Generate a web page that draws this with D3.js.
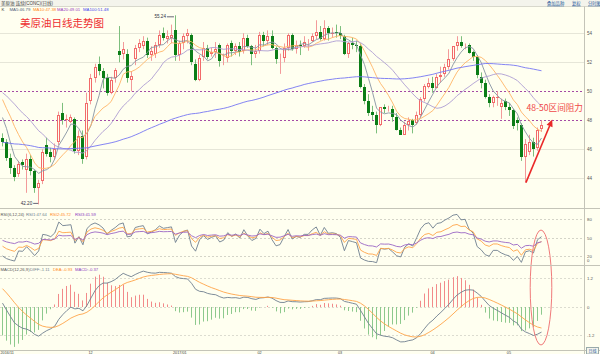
<!DOCTYPE html>
<html>
<head>
<meta charset="utf-8">
<script src="https://cdn.jsdelivr.net/npm/d3@7"></script>
<style>
  html, body { margin: 0; padding: 0; background: #fffff0; }
  svg { display: block; font-family: "Liberation Sans", "Noto Sans CJK SC", sans-serif; }
</style>
</head>
<body>
<svg id="chart" width="600" height="354"></svg>
<script>
/* WTI crude (CONC) daily candles, Nov 2016 - May 2017, with MA / RSI / MACD panels */

// closes before the visible window, only used to warm up MA100 / RSI / MACD
var priorCloses = [
  48.88, 48.49, 48.01, 46.21, 47.98, 48.81, 48.85, 49.13, 50.11, 47.64, 46.33, 47.85, 49.88, 48.33,
  48.99, 46.60, 47.43, 45.14, 45.41, 44.76, 46.80, 44.75, 45.68, 45.95, 45.24, 44.65, 44.94, 44.75,
  44.19, 43.13, 42.92, 41.92, 41.14, 41.60,
  40.06, 39.51, 40.83, 41.93, 41.80, 43.02, 42.77, 41.71, 43.49, 44.49, 45.74, 46.58, 46.79, 48.22,
  48.52, 47.05, 48.10, 46.77, 47.33, 47.64, 46.98, 46.35, 44.70,
  43.16, 44.44, 44.83, 45.50, 47.62, 45.88, 46.29, 44.90, 43.58, 43.91, 43.03, 43.30, 43.44, 45.34,
  46.32, 44.48, 45.93, 44.67, 47.05, 47.83, 48.24,
  48.81, 48.69, 49.83, 50.44, 49.81, 51.35, 50.79, 50.18, 50.44, 50.35, 50.29, 50.29, 51.60, 50.43,
  50.85, 50.52, 49.96, 49.18, 49.72, 48.70, 46.86
];

// [open, high, low, close]
var nov16 = [
  [46.8, 47.1, 46.2, 46.5], [46.5, 46.7, 45.2, 45.4], [45.4, 45.7, 44.3, 44.7], [44.7, 44.9, 43.8, 44.1],
  [44.3, 45.2, 44.1, 45.0], [45.1, 45.3, 44.6, 44.9], [44.6, 45.7, 43.0, 45.3], [45.3, 45.6, 44.2, 44.5],
  [44.5, 44.6, 43.0, 43.3], [43.3, 43.9, 42.2, 43.7], [43.8, 46.0, 43.6, 45.8], [46.3, 46.8, 45.5, 45.7],
  [45.8, 46.1, 45.1, 45.5], [45.5, 46.4, 45.3, 46.0], [46.5, 48.6, 46.3, 48.4], [48.5, 49.2, 47.7, 48.0],
  [48.1, 48.4, 47.5, 48.1], [47.9, 48.4, 47.8, 48.2], [48.1, 48.2, 45.7, 45.9], [45.9, 47.3, 45.6, 46.9],
  [46.9, 47.3, 45.0, 45.3], [45.5, 49.9, 45.3, 49.2]
];
var dec16 = [
  [49.3, 51.2, 49.1, 50.9], [50.9, 51.9, 50.6, 51.7], [51.9, 52.4, 51.1, 51.4], [51.4, 51.6, 50.2, 50.9],
  [50.9, 51.2, 49.7, 49.9], [49.9, 51.0, 49.8, 50.8], [50.9, 51.6, 50.6, 51.5], [52.8, 54.5, 52.0, 52.5],
  [52.6, 53.4, 52.2, 52.9], [52.6, 52.9, 50.6, 50.9], [50.8, 51.4, 50.0, 51.05], [52.2, 53.2, 51.8, 53.0],
  [53.0, 53.6, 52.7, 53.3], [53.1, 53.8, 52.9, 53.5], [53.5, 53.7, 52.3, 52.5], [52.5, 53.1, 52.1, 52.8],
  [52.6, 53.4, 52.3, 53.2], [53.2, 54.2, 53.0, 53.9], [54.0, 54.4, 53.5, 53.7], [53.6, 54.2, 53.3, 53.8],
  [53.7, 54.6, 53.3, 53.9]
];
var jan17 = [
  [54.2, 55.24, 52.1, 52.5], [52.5, 53.5, 52.1, 53.3], [53.3, 54.0, 52.9, 53.8], [53.8, 54.3, 53.3, 54.0],
  [53.9, 54.0, 51.8, 52.0], [51.9, 52.2, 50.7, 50.8], [50.8, 52.5, 50.7, 52.3], [52.4, 53.4, 52.1, 53.0],
  [53.0, 53.2, 52.2, 52.4], [52.6, 53.0, 52.4, 52.7], [52.7, 53.4, 52.3, 52.9], [53.2, 53.3, 51.7, 52.1],
  [52.2, 52.6, 51.8, 52.3], [52.3, 53.3, 52.0, 53.2], [53.3, 53.5, 52.4, 52.8], [52.8, 53.3, 52.5, 53.1],
  [53.1, 53.4, 52.4, 52.7], [52.8, 54.0, 52.6, 53.7], [53.7, 53.9, 53.0, 53.1], [53.1, 53.2, 51.8, 52.6],
  [52.6, 53.2, 52.3, 52.8]
];
var feb17 = [
  [52.8, 54.1, 52.6, 53.9], [53.9, 54.1, 53.1, 53.5], [53.5, 54.2, 53.2, 53.8], [53.8, 54.2, 52.9, 53.0],
  [53.0, 53.1, 51.9, 52.2], [52.2, 52.6, 51.2, 52.3], [52.3, 53.3, 52.0, 53.0], [53.0, 54.0, 52.8, 53.9],
  [53.9, 54.0, 52.8, 52.9], [52.9, 53.5, 52.6, 53.2], [53.2, 53.5, 52.5, 53.1], [53.1, 53.8, 53.0, 53.4],
  [53.3, 53.6, 52.8, 53.4], [53.5, 54.0, 53.4, 53.8], [53.8, 54.9, 53.6, 54.1], [54.1, 54.5, 53.5, 53.6],
  [53.6, 54.9, 53.5, 54.4], [54.4, 54.5, 53.5, 54.0], [54.0, 54.4, 53.7, 54.05], [54.1, 54.6, 53.7, 54.0]
];
var mar17 = [
  [54.0, 54.5, 53.6, 53.8], [53.8, 53.9, 52.5, 52.6], [52.6, 53.4, 52.3, 53.3], [53.3, 53.7, 52.9, 53.2],
  [53.2, 53.5, 52.7, 53.1], [53.1, 53.3, 50.2, 50.3], [50.3, 50.5, 49.1, 49.3], [49.3, 49.8, 48.3, 48.5],
  [48.6, 49.0, 48.0, 48.4], [48.4, 48.6, 47.1, 47.7], [47.7, 48.9, 47.6, 48.9], [48.9, 49.1, 48.5, 48.75],
  [48.7, 49.0, 48.6, 48.8], [48.8, 49.0, 47.9, 48.2], [48.2, 48.5, 47.3, 47.3], [47.3, 47.5, 47.0, 47.0],
  [47.0, 47.9, 47.0, 47.7], [47.7, 48.2, 47.3, 47.97], [48.0, 48.1, 47.1, 47.7], [47.8, 48.6, 47.7, 48.4],
  [48.4, 49.6, 48.2, 49.5], [49.5, 50.5, 49.3, 50.35], [50.3, 50.9, 50.2, 50.6]
];
var apr17 = [
  [50.6, 51.0, 49.9, 50.2], [50.2, 51.2, 50.2, 51.0], [51.0, 51.7, 50.6, 51.15], [51.2, 51.9, 51.0, 51.7],
  [51.7, 52.9, 51.5, 52.2], [52.2, 53.1, 52.1, 53.1], [53.1, 53.8, 52.8, 53.4], [53.4, 53.8, 53.0, 53.1],
  [53.1, 53.3, 52.9, 53.2], [53.2, 53.3, 52.6, 52.65], [52.7, 52.8, 52.1, 52.4], [52.4, 52.5, 50.9, 51.1],
  [51.0, 51.3, 50.2, 50.6], [50.6, 50.8, 49.5, 49.6], [49.6, 49.8, 48.9, 49.2], [49.2, 49.7, 48.9, 49.6],
  [49.6, 50.0, 49.0, 49.6], [48.9, 49.5, 48.1, 49.2], [49.3, 49.5, 48.7, 48.9]
];
var may17 = [
  [48.9, 49.2, 48.3, 48.7], [48.7, 48.8, 47.4, 47.6], [48.0, 48.2, 47.3, 47.8], [47.7, 47.8, 45.2, 45.5],
  [45.5, 46.7, 43.7, 46.4], [45.8, 47.0, 45.6, 46.5], [46.5, 46.8, 45.5, 46.0], [46.1, 47.5, 45.9, 47.3],
  [47.4, 48.0, 47.2, 47.7]
];

// month start (bar index) and its label on the date axis
var monthStarts = [0, 22, 43, 64, 84, 107, 126];
var monthLabels = ['2016/11', '12', '2017/01', '02', '03', '04', '05'];

var priceTicks = [54, 52, 50, 48, 46, 44];
var rsiTicks = [80, 50, 20];
var macdTicks = [1.2, 0, -1.2];

var maPeriods = [5, 10, 20, 100];
var maLegend = ['MA5:46.79', 'MA10:47.38', 'MA20:49.01', 'MA100:51.48'];
var rsiLegend = ['RSI(6,12,24)', 'RSI1:47.64', 'RSI2:45.72', 'RSI3:41.59'];
var macdLegend = ['MACD(12,26,9)', 'DIFF:-1.11', 'DEA:-0.93', 'MACD:-0.37'];

(function () {
  'use strict';

  var rows = nov16.concat(dec16, jan17, feb17, mar17, apr17, may17);
  var N = rows.length;
  var closes = rows.map(function (r) { return r[3]; });
  var P = priorCloses.length;
  var allC = priorCloses.concat(closes);

  /* ---- indicators ---- */
  function movingAvg(n) {
    return closes.map(function (c, i) {
      var k = P + i, s = 0, cnt = 0;
      for (var j = Math.max(0, k - n + 1); j <= k; j++) { s += allC[j]; cnt++; }
      return s / cnt;
    });
  }

  function rsi(n) {
    var up = 0, ab = 0, out = [];
    for (var k = 1; k < allC.length; k++) {
      var d = allC[k] - allC[k - 1];
      if (k === 1) { up = Math.max(d, 0); ab = Math.abs(d); }
      else {
        up = (Math.max(d, 0) + (n - 1) * up) / n;
        ab = (Math.abs(d) + (n - 1) * ab) / n;
      }
      if (k >= P) out.push(ab ? up / ab * 100 : 50);
    }
    return out;
  }

  var diff = [], dea = [], hist = [];
  (function () {
    var e12 = allC[0], e26 = allC[0], de = 0;
    for (var k = 0; k < allC.length; k++) {
      var c = allC[k];
      e12 = (2 * c + 11 * e12) / 13;
      e26 = (2 * c + 25 * e26) / 27;
      var df = e12 - e26;
      de = (2 * df + 8 * de) / 10;
      if (k >= P) { diff.push(df); dea.push(de); hist.push(2 * (df - de)); }
    }
  })();

  /* ---- colours ---- */
  var C = {
    bg: '#fffff0', axis: '#c4c4b8', grid: '#e6e6d8', text: '#555',
    up: '#f26a6a', upWick: '#f39a9a', down: '#0b7d16', downWick: '#7dbf7d',
    ma: ['#8794a3', '#ffb466', '#ae9dd3', '#7676f3'],
    maText: ['#4f6079', '#ff8a1c', '#9a3cc0', '#4545ee'],
    rsi: ['#6f7f8f', '#ffa448', '#9b66c4'],
    histUp: '#f28a8a', histDown: '#8dc98d',
    red: '#ee3030'
  };

  var svg = d3.select('#chart');
  svg.append('rect').attr('width', 600).attr('height', 354).attr('fill', C.bg);

  var AX = 584.5;   // right axis line
  var xs = d3.scaleLinear().domain([0, N - 1]).range([2, 541]);
  var yP = d3.scaleLinear().domain([44, 54]).range([178.3, 33.3]);
  var yR = d3.scaleLinear().domain([20, 80]).range([256, 219.3]);
  var yM = d3.scaleLinear().domain([-1.2, 1.2]).range([335, 278]);

  function px(i) { return Math.round(xs(i)); }

  var defs = svg.append('defs');
  function clip(id, y0, y1) {
    defs.append('clipPath').attr('id', id).append('rect')
      .attr('x', 0).attr('y', y0).attr('width', AX).attr('height', y1 - y0);
  }
  clip('cp-main', 8, 208);
  clip('cp-rsi', 209, 265);
  clip('cp-macd', 266, 350);

  /* ---- top strip ---- */
  svg.append('rect').attr('x', 0).attr('y', 0).attr('width', 600).attr('height', 6.5).attr('fill', '#f4f4ec');
  svg.append('line').attr('x1', 0).attr('x2', 600).attr('y1', 6.5).attr('y2', 6.5).attr('stroke', '#d8d8cc');
  svg.append('text').attr('x', 1).attr('y', 4.6).style('font-size', '4.5px').style('fill', '#444')
    .text('美原油 连续(CONC)(日线)');
  var btns = [['叠加品种', 547], ['复权', 572], ['分时图', 588]];
  btns.forEach(function (b) {
    svg.append('text').attr('x', b[1]).attr('y', 4.8).style('font-size', '4.3px')
      .style('fill', '#2f5e9e').style('text-decoration', 'underline').text(b[0]);
  });

  /* ---- main legend ---- */
  svg.append('text').attr('x', 1.5).attr('y', 11.2).style('font-size', '4.3px').style('fill', '#333').text('K');
  var legX = [9.5, 33, 57, 83];
  maLegend.forEach(function (t, k) {
    svg.append('text').attr('x', legX[k]).attr('y', 11.2).style('font-size', '4.3px')
      .style('fill', C.maText[k]).text(t);
  });

  /* ---- grid ---- */
  var g = svg.append('g');
  priceTicks.forEach(function (v) {
    var y = Math.round(yP(v)) + 0.5;
    var special = (v === 50 || v === 48);
    g.append('line').attr('x1', 0).attr('x2', AX).attr('y1', y).attr('y2', y)
      .attr('stroke', special ? '#a54aa5' : C.grid)
      .attr('stroke-dasharray', special ? '2,2' : null);
    g.append('text').attr('x', 587).attr('y', y + 1.5).style('font-size', '4.5px').style('fill', C.text).text(v);
  });
  rsiTicks.forEach(function (v) {
    var y = Math.round(yR(v)) + 0.5;
    g.append('line').attr('x1', 0).attr('x2', AX).attr('y1', y).attr('y2', y)
      .attr('stroke', '#d4d4c8').attr('stroke-dasharray', '2,2');
    g.append('text').attr('x', 587).attr('y', y + 1.5).style('font-size', '4.3px').style('fill', C.text).text(v);
  });
  g.append('text').attr('x', 587).attr('y', 262).style('font-size', '4.3px').style('fill', C.text).text('0');
  macdTicks.forEach(function (v) {
    var y = Math.round(yM(v)) + 0.5;
    g.append('line').attr('x1', 0).attr('x2', AX).attr('y1', y).attr('y2', y)
      .attr('stroke', '#dcdcd0').attr('stroke-dasharray', '2,2');
    g.append('text').attr('x', 587).attr('y', y + 1.5).style('font-size', '4.3px').style('fill', C.text).text(v);
  });

  /* ---- candles ---- */
  var main = svg.append('g').attr('clip-path', 'url(#cp-main)');
  rows.forEach(function (r, i) {
    var o = r[0], h = r[1], l = r[2], c = r[3];
    var x = px(i), up = c >= o;
    var yo = Math.round(yP(o)), yc = Math.round(yP(c));
    main.append('line').attr('x1', x + 0.5).attr('x2', x + 0.5)
      .attr('y1', yP(h)).attr('y2', yP(l))
      .attr('stroke', up ? C.upWick : C.downWick).attr('stroke-width', 1);
    if (Math.abs(yo - yc) < 1) {
      main.append('line').attr('x1', x - 1).attr('x2', x + 2).attr('y1', yc + 0.5).attr('y2', yc + 0.5)
        .attr('stroke', up ? C.up : C.down);
    } else if (up) {
      main.append('rect').attr('x', x - 0.5).attr('y', yc + 0.5)
        .attr('width', 2).attr('height', yo - yc - 1)
        .attr('fill', C.bg).attr('stroke', C.up).attr('stroke-width', 1);
    } else {
      main.append('rect').attr('x', x - 1).attr('y', yo)
        .attr('width', 3).attr('height', yc - yo).attr('fill', C.down);
    }
  });

  /* ---- moving averages ---- */
  maPeriods.forEach(function (n, k) {
    var vals = movingAvg(n);
    main.append('path').datum(vals)
      .attr('d', d3.line().x(function (d, i) { return xs(i) + 0.5; }).y(function (d) { return yP(d); }))
      .attr('fill', 'none').attr('stroke', C.ma[k]).attr('stroke-width', 0.9);
  });

  /* high / low marks */
  var hiI = d3.maxIndex(rows, function (r) { return r[1]; });
  var loI = d3.minIndex(rows, function (r) { return r[2]; });
  var hx = xs(hiI), hy = yP(rows[hiI][1]);
  svg.append('line').attr('x1', hx - 8).attr('x2', hx - 1).attr('y1', hy + 1.5).attr('y2', hy + 1.5)
    .attr('stroke', '#667');
  svg.append('text').attr('x', hx - 9).attr('y', hy + 3).attr('text-anchor', 'end')
    .style('font-size', '4.6px').style('fill', '#334').text(rows[hiI][1].toFixed(2));
  var lx = xs(loI), ly = yP(rows[loI][2]);
  svg.append('line').attr('x1', lx - 5).attr('x2', lx).attr('y1', ly - 1).attr('y2', ly - 1).attr('stroke', '#667');
  svg.append('text').attr('x', lx - 6).attr('y', ly + 0.5).attr('text-anchor', 'end')
    .style('font-size', '4.6px').style('fill', '#334').text(rows[loI][2].toFixed(2));

  /* ---- title and annotation ---- */
  svg.append('text').attr('x', 20).attr('y', 27).style('font-size', '10.5px')
    .style('fill', C.red).style('font-family', '"Noto Sans CJK SC", sans-serif').text('美原油日线走势图');
  svg.append('text').attr('x', 526.5).attr('y', 111).style('font-size', '8.6px')
    .style('fill', '#f04848').style('font-family', '"Noto Sans CJK SC", sans-serif').text('48-50区间阻力');

  var ax0 = xs(N - 5) + 1, ay0 = yP(43.7);
  var ax1 = xs(N + 1.8), ay1 = yP(48.05);
  var ang = Math.atan2(ay1 - ay0, ax1 - ax0);
  var hl = 7, hw = 3.2;
  var bx = ax1 - hl * Math.cos(ang), by = ay1 - hl * Math.sin(ang);
  svg.append('line').attr('x1', ax0).attr('y1', ay0).attr('x2', bx).attr('y2', by)
    .attr('stroke', '#ea2828').attr('stroke-width', 1.6);
  svg.append('path')
    .attr('d', 'M' + ax1 + ',' + ay1 +
      'L' + (bx + hw * Math.sin(ang)) + ',' + (by - hw * Math.cos(ang)) +
      'L' + (bx - hw * Math.sin(ang)) + ',' + (by + hw * Math.cos(ang)) + 'Z')
    .attr('fill', '#ea2828');

  /* ---- RSI panel ---- */
  var rsiG = svg.append('g').attr('clip-path', 'url(#cp-rsi)');
  [6, 12, 24].forEach(function (n, k) {
    rsiG.append('path').datum(rsi(n))
      .attr('d', d3.line().x(function (d, i) { return xs(i) + 0.5; }).y(function (d) { return yR(d); }))
      .attr('fill', 'none').attr('stroke', C.rsi[k]).attr('stroke-width', 0.9);
  });
  var rsiX = [0.5, 26, 50, 75];
  var rsiCol = ['#555', C.rsi[0], '#ff8a1c', '#8d3cc0'];
  rsiLegend.forEach(function (t, k) {
    svg.append('text').attr('x', rsiX[k]).attr('y', 215.8).style('font-size', '4.2px')
      .style('fill', rsiCol[k]).text(t);
  });

  /* ---- MACD panel ---- */
  var mG = svg.append('g').attr('clip-path', 'url(#cp-macd)');
  var y0 = Math.round(yM(0));
  hist.forEach(function (v, i) {
    mG.append('line').attr('x1', px(i) + 0.5).attr('x2', px(i) + 0.5)
      .attr('y1', y0).attr('y2', yM(v))
      .attr('stroke', v >= 0 ? C.histUp : C.histDown).attr('stroke-width', 1);
  });
  [[diff, C.rsi[0]], [dea, C.rsi[1]]].forEach(function (s) {
    mG.append('path').datum(s[0])
      .attr('d', d3.line().x(function (d, i) { return xs(i) + 0.5; }).y(function (d) { return yM(d); }))
      .attr('fill', 'none').attr('stroke', s[1]).attr('stroke-width', 0.9);
  });
  var macdX = [0.5, 30, 53, 75];
  var macdCol = ['#555', C.rsi[0], '#ff8a1c', '#8d3cc0'];
  macdLegend.forEach(function (t, k) {
    svg.append('text').attr('x', macdX[k]).attr('y', 270.8).style('font-size', '4.2px')
      .style('fill', macdCol[k]).text(t);
  });

  /* red ellipse round the latest bars */
  svg.append('ellipse').attr('cx', xs(N - 1)).attr('cy', 287.5).attr('rx', 10.8).attr('ry', 57.5)
    .attr('fill', 'none').attr('stroke', '#f07a7a').attr('stroke-width', 1);

  /* ---- frame ---- */
  [208.5, 265.5, 350.5].forEach(function (y) {
    svg.append('line').attr('x1', 0).attr('x2', 600).attr('y1', y).attr('y2', y).attr('stroke', C.axis);
  });
  svg.append('line').attr('x1', AX).attr('x2', AX).attr('y1', 6.5).attr('y2', 354).attr('stroke', C.axis);

  /* date axis */
  monthStarts.forEach(function (i, k) {
    svg.append('text').attr('x', Math.max(0.5, xs(i) - 2)).attr('y', 353.6)
      .style('font-size', '3.8px').style('fill', '#444').text(monthLabels[k]);
  });
  svg.append('rect').attr('x', 586.5).attr('y', 347.5).attr('width', 12).attr('height', 6.5)
    .attr('fill', '#f4f4ec').attr('stroke', '#9aa');
  svg.append('text').attr('x', 588.5).attr('y', 352.6).style('font-size', '4px').style('fill', '#2f5e9e').text('日线');
})();
</script>
</body>
</html>
